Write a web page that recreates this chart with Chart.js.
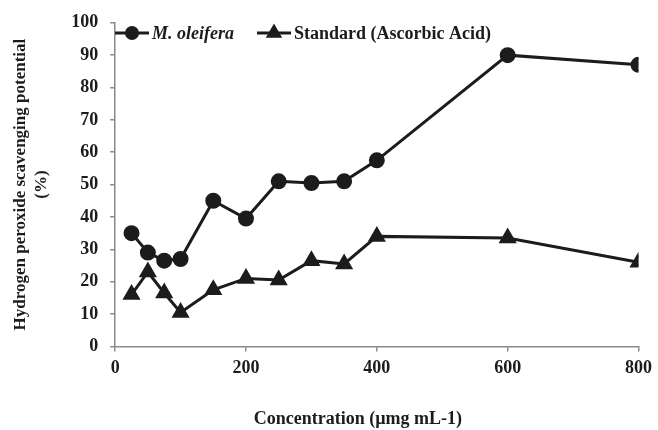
<!DOCTYPE html>
<html>
<head>
<meta charset="utf-8">
<script src="https://cdn.jsdelivr.net/npm/chart.js@4.4.1/dist/chart.umd.min.js"></script>
<style>
  html, body { margin: 0; padding: 0; background: #fff; }
  #wrap { width: 658px; height: 430px; position: relative; }
</style>
</head>
<body>
<div id="wrap"><canvas id="chart"></canvas></div>
<script>
// Hydrogen peroxide scavenging — M. oleifera vs ascorbic acid standard

const concentrations = [25, 50, 75, 100, 150, 200, 250, 300, 350, 400, 600, 800];
const oleifera = [35, 29, 26.5, 27, 45, 39.5, 51, 50.5, 51, 57.5, 90, 87];
const standard = [16, 23, 16.5, 10.5, 17.5, 21, 20.5, 26.5, 25.5, 34, 33.5, 26];
const xTicks = [0, 200, 400, 600, 800];
const yTicks = [0, 10, 20, 30, 40, 50, 60, 70, 80, 90, 100];

const INK = '#1c1c1c';
const AXIS = '#8a8a8a';
const SERIF = '"Liberation Serif", "DejaVu Serif", serif';
const X_TITLE = 'Concentration (µmg mL-1)';

const toPoints = ys => concentrations.map((x, i) => ({ x, y: ys[i] }));

// legend with line + marker inside the plot, and the x title (sits a bit left of centre)
const extras = {
  id: 'extras',
  afterDraw(chart) {
    const ctx = chart.ctx;
    const area = chart.chartArea;
    const items = [
      { text: 'M. oleifera', italic: true, style: 'circle', x: 115, r: 5.5 },
      { text: 'Standard (Ascorbic Acid)', italic: false, style: 'triangle', x: 257, r: 6.5 },
    ];
    const y = 33;
    ctx.save();
    items.forEach(it => {
      ctx.strokeStyle = INK;
      ctx.lineWidth = 3;
      ctx.beginPath();
      ctx.moveTo(it.x, y);
      ctx.lineTo(it.x + 34, y);
      ctx.stroke();
      ctx.fillStyle = INK;
      Chart.helpers.drawPoint(ctx, { pointStyle: it.style, radius: it.r, borderWidth: 1 }, it.x + 17, y);
      ctx.fillStyle = INK;
      ctx.font = `${it.italic ? 'italic ' : ''}bold 18px ${SERIF}`;
      ctx.textBaseline = 'middle';
      ctx.textAlign = 'left';
      ctx.fillText(it.text, it.x + 37, y + 1);
    });

    ctx.font = `bold 18px ${SERIF}`;
    ctx.textAlign = 'center';
    ctx.textBaseline = 'middle';
    ctx.fillText(X_TITLE, (area.left + area.right) / 2 - 19, 419);
    ctx.restore();
  },
};

new Chart(document.getElementById('chart'), {
  type: 'line',
  data: {
    datasets: [{
      label: 'M. oleifera',
      data: toPoints(oleifera),
      borderColor: INK,
      backgroundColor: INK,
      borderWidth: 3,
      pointStyle: 'circle',
      pointRadius: 6.5,
      pointHoverRadius: 6.5,
      tension: 0,
    }, {
      label: 'Standard (Ascorbic Acid)',
      data: toPoints(standard),
      borderColor: INK,
      backgroundColor: INK,
      borderWidth: 3,
      pointStyle: 'triangle',
      pointRadius: 7.5,
      pointHoverRadius: 7.5,
      tension: 0,
    }],
  },
  options: {
    responsive: true,
    maintainAspectRatio: false,
    animation: false,
    layout: { padding: { top: 19, right: 15, left: 10, bottom: 45 } },
    plugins: {
      legend: { display: false },
      tooltip: { enabled: false },
    },
    scales: {
      x: {
        type: 'linear',
        min: 0,
        max: 800,
        afterBuildTicks: axis => { axis.ticks = xTicks.map(v => ({ value: v })); },
        ticks: { color: INK, font: { family: SERIF, size: 18, weight: 'bold' }, padding: 6, maxRotation: 0 },
        grid: { display: true, drawOnChartArea: false, drawTicks: true, tickLength: 5, color: AXIS, lineWidth: 1.5 },
        border: { display: true, color: AXIS, width: 1.5 },
      },
      y: {
        min: 0,
        max: 100,
        afterBuildTicks: axis => { axis.ticks = yTicks.map(v => ({ value: v })); },
        ticks: { color: INK, font: { family: SERIF, size: 18, weight: 'bold' }, padding: 12 },
        grid: { display: true, drawOnChartArea: false, drawTicks: true, tickLength: 5, color: AXIS, lineWidth: 1.5 },
        border: { display: true, color: AXIS, width: 1.5 },
        title: {
          display: true,
          text: ['Hydrogen peroxide scavenging potential', '(%)'],
          color: INK,
          font: { family: SERIF, size: 17, weight: 'bold', lineHeight: 1.24 },
          padding: { top: 0, bottom: 7 },
        },
      },
    },
  },
  plugins: [extras],
});
</script>
</body>
</html>
